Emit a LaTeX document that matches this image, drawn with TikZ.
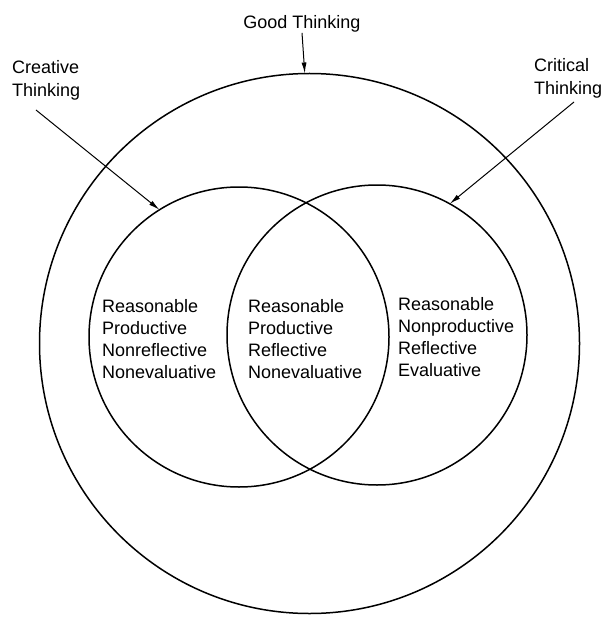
\documentclass[tikz,border=0pt]{standalone}
\usepackage{fontspec}
\setmainfont{Liberation Sans}
\usetikzlibrary{arrows.meta}
\begin{document}
\begin{tikzpicture}[x=1pt,y=-1pt,
  ring/.style={circle,draw,line width=1.5pt,inner sep=0pt,outer sep=0pt},
  arr/.style={line width=1pt,-{Latex[length=11pt,width=5pt]}},
  lbl/.style={font=\fontsize{18}{23}\selectfont,align=left,inner sep=0pt,anchor=north west},
  blk/.style={font=\fontsize{18}{22}\selectfont,align=left,inner sep=0pt,anchor=north west}]
\useasboundingbox (0,0) rectangle (604,631);
\node[ring,minimum size=540pt] (good) at (309.5,343.5) {};
\node[ring,minimum size=300pt] (lc) at (239,337) {};
\node[ring,minimum size=300pt] (rc) at (377,335) {};
\node[font=\fontsize{18}{22}\selectfont,inner sep=0pt,anchor=base] (gt) at (302,29) {Good Thinking};
\node[lbl] (ct) at (12,60) {Creative\\Thinking};
\node[lbl] (kt) at (534,58) {Critical\\Thinking};
\coordinate (cta) at (36,110);
\coordinate (kta) at (574,102);
\draw[arr] (gt.south) -- (good.91.6);
\draw[arr] (cta) -- (lc.122);
\draw[arr] (kta) -- (rc.61);
\node[blk] (lt) at (102,299) {Reasonable\\Productive\\Nonreflective\\Nonevaluative};
\node[blk] (mt) at (248,299) {Reasonable\\Productive\\Reflective\\Nonevaluative};
\node[blk] (rt) at (398,297) {Reasonable\\Nonproductive\\Reflective\\Evaluative};
\end{tikzpicture}
\end{document}
